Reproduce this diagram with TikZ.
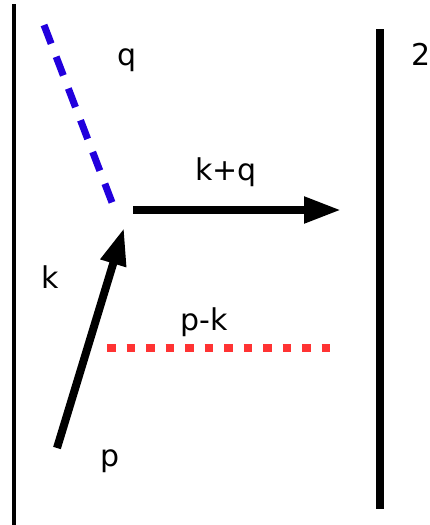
\documentclass[tikz,border=0pt]{standalone}
\usepackage{fontspec}
\setmainfont{DejaVu Sans}
\usepackage{xcolor}
\usepackage{tikz}
\usetikzlibrary{arrows.meta}

\definecolor{gluonblue}{RGB}{34,0,221}
\definecolor{ghostred}{RGB}{255,51,51}

\begin{document}
\begin{tikzpicture}[
  x=1pt,y=-1pt,
  wall/.style={draw=black},
  mom/.style={-{Triangle[length=37pt,width=25pt]},line width=8pt,black},
  gluon/.style={gluonblue,line width=7pt,dash pattern=on 20pt off 14pt},
  ghost/.style={ghostred,line width=8.5pt,dash pattern=on 8.5pt off 11pt},
  lbl/.style={anchor=base,inner sep=0pt,font=\fontsize{30}{36}\selectfont}
]
\useasboundingbox (0,0) rectangle (429,525);

% Walls
\coordinate (wallLtop) at (14,4);
\coordinate (wallLbot) at (14,525);
\coordinate (wallRtop) at (380,29);
\coordinate (wallRbot) at (380,509);
\draw[wall,line width=4.3pt] (wallLtop) -- (wallLbot);
\draw[wall,line width=8pt] (wallRtop) -- (wallRbot);

% Lines
\coordinate (qstart) at (44,25);
\coordinate (qend) at (113,205);
\draw[gluon] (qstart) -- (qend);

\coordinate (kstart) at (57,448);
\coordinate (ktip) at (124,228);
\draw[mom] (kstart) -- (ktip);

\coordinate (kqstart) at (133,210);
\coordinate (kqtip) at (341,210);
\draw[mom] (kqstart) -- (kqtip);

\coordinate (pkstart) at (107,348);
\coordinate (pkend) at (330,348);
\draw[ghost] (pkstart) -- (pkend);

% Labels
\node[lbl] (labq) at (127,65) {q};
\node[lbl] (labkq) at (226,180) {k+q};
\node[lbl] (labk) at (50,288) {k};
\node[lbl] (labpk) at (204,330) {p-k};
\node[lbl] (labp) at (110,466) {p};
\node[lbl] (lab2) at (421,65) {2};
\end{tikzpicture}
\end{document}
